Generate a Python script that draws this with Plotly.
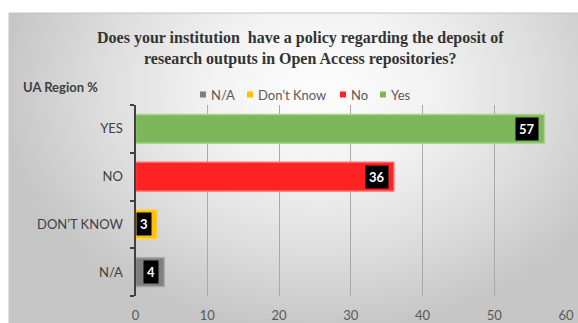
import plotly.graph_objects as go

# --- data -------------------------------------------------------------
categories = ["YES", "NO", "DON’T KNOW", "N/A"]          # top to bottom
series_names = ["Yes", "No", "Don’t Know", "N/A"]
values = [57, 36, 3, 4]
bar_colors = ["#7EB65C", "#FF2222", "#FFC000", "#7F7F7F"]
edge_colors = ["#A9D38F", "#FF6A6A", "#FFD54A", "#A6A6A6"]
legend_order = ["N/A", "Don’t Know", "No", "Yes"]
x_ticks = [0, 10, 20, 30, 40, 50, 60]

title_text = ("<b>Does your institution  have a policy regarding the deposit of<br>"
              "research outputs in Open Access repositories?</b>")
axis_caption = "UA Region %"

# --- canvas geometry (pixels) -----------------------------------------
W, H = 578, 323
PANEL_L, PANEL_T = 9, 13
PLOT_L, PLOT_R = 135.5, 566
PLOT_T, PLOT_B = 105, 296


def px(x):
    return x / W


def py(y):
    return 1 - y / H


fig = go.Figure()

# Soft radial-shaded panel behind the chart (own hidden axes, drawn first)
cx, cy, hw, hh = 320, 90, 320, 240
fig.add_trace(go.Scatter(
    x=[cx - hw, cx + hw, cx + hw, cx - hw, cx - hw],
    y=[cy - hh, cy - hh, cy + hh, cy + hh, cy - hh],
    fill="toself", mode="none", hoverinfo="skip", showlegend=False,
    fillgradient=dict(type="radial",
                      colorscale=[[0, "#fdfdfd"], [0.35, "#f2f2f2"],
                                  [0.7, "#dcdcdc"], [1, "#c6c6c6"]]),
    xaxis="x", yaxis="y",
))

# Bars: one trace per series so each keeps its own colour
for cat, name, val, col, edge in zip(categories, series_names, values,
                                     bar_colors, edge_colors):
    fig.add_trace(go.Bar(
        y=[cat], x=[val], orientation="h", name=name,
        marker=dict(color=col, line=dict(color=edge, width=1.5)),
        width=0.6, showlegend=False, xaxis="x2", yaxis="y2",
        hoverinfo="x+y",
    ))

annotations = []
# Value labels: white on black boxes, inside the end of each bar
for cat, val in zip(categories, values):
    annotations.append(dict(
        x=val, y=cat, xref="x2", yref="y2", text=f"<b>{val}</b>",
        showarrow=False, xanchor="right", xshift=-5,
        font=dict(family="Lato", size=13, color="white"),
        bgcolor="black", borderpad=3,
    ))

# Title and caption
annotations.append(dict(
    x=px(300), y=py(49), xref="paper", yref="paper", text=title_text,
    showarrow=False, xanchor="center", yanchor="middle",
    font=dict(family="Liberation Serif", size=16, color="#333333"),
))
annotations.append(dict(
    x=px(21), y=py(87), xref="paper", yref="paper",
    text=f"<b>{axis_caption}</b>", showarrow=False,
    xanchor="left", yanchor="middle",
    font=dict(family="Lato", size=13, color="#404040"),
))

# Legend row: small square swatch followed by the series name
shapes = []
color_of = dict(zip(series_names, bar_colors))
legend_x = [200, 247, 340, 380]
for name, lx in zip(legend_order, legend_x):
    shapes.append(dict(
        type="rect", xref="paper", yref="paper",
        x0=px(lx), x1=px(lx + 6), y0=py(97.5), y1=py(91.5),
        fillcolor=color_of[name], line=dict(width=0),
    ))
    annotations.append(dict(
        x=px(lx + 9), y=py(94.5), xref="paper", yref="paper", text=name,
        showarrow=False, xanchor="left", yanchor="middle",
        font=dict(family="Lato", size=13, color="#595959"),
    ))

# Panel outline
shapes.append(dict(
    type="rect", xref="paper", yref="paper", layer="above",
    x0=px(PANEL_L), x1=px(W + 2), y0=py(H + 2), y1=py(PANEL_T),
    line=dict(color="#c4c4c4", width=1), fillcolor="rgba(0,0,0,0)",
))

fig.update_layout(
    width=W, height=H,
    margin=dict(l=0, r=0, t=0, b=0, autoexpand=False),
    paper_bgcolor="white", plot_bgcolor="rgba(0,0,0,0)",
    barmode="overlay", showlegend=False,
    font=dict(family="Lato", size=13, color="#595959"),
    xaxis=dict(domain=[px(PANEL_L), 1], range=[PANEL_L, W], visible=False,
               fixedrange=True),
    yaxis=dict(domain=[0, py(PANEL_T)], range=[H, PANEL_T], visible=False,
               fixedrange=True),
    xaxis2=dict(domain=[px(PLOT_L), px(PLOT_R)], anchor="y2", range=[0, 60],
                tickvals=x_ticks, showgrid=True, gridcolor="#a9a9a9",
                gridwidth=1, zeroline=False, showline=False, ticks="",
                ticklabelstandoff=10,
                tickfont=dict(family="Lato", size=13, color="#595959")),
    yaxis2=dict(domain=[py(PLOT_B), py(PLOT_T)], anchor="x2",
                type="category", categoryorder="array",
                categoryarray=categories[::-1], range=[-0.5, 3.5],
                showline=True, linecolor="#404040", linewidth=2,
                ticks="outside", tickson="boundaries", ticklen=4,
                tickcolor="#404040", tickwidth=2, showgrid=False,
                ticklabelstandoff=8,
                tickfont=dict(family="Lato", size=13, color="#404040")),
    annotations=annotations, shapes=shapes,
)

fig.write_html("out.html")
